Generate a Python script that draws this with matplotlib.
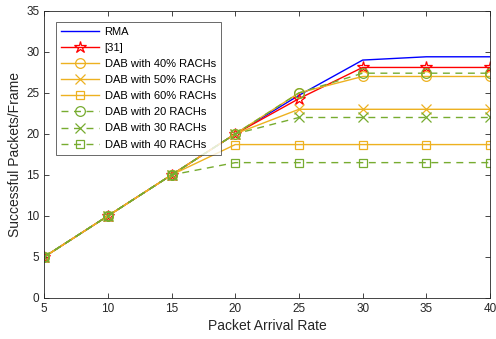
import matplotlib
matplotlib.use("Agg")
import matplotlib.pyplot as plt

plt.rcParams['font.family'] = ['Liberation Sans', 'DejaVu Sans']

x = [5, 10, 15, 20, 25, 30, 35, 40]
rma = [5, 10, 15, 20, 24.7, 29.0, 29.4, 29.4]
ref31 = [5, 10, 15, 20, 24.3, 28.1, 28.1, 28.1]
dab40p = [5, 10, 15, 20, 25.0, 27.0, 27.0, 27.0]
dab50p = [5, 10, 15, 20, 23.0, 23.0, 23.0, 23.0]
dab60p = [5, 10, 15, 18.7, 18.7, 18.7, 18.7, 18.7]
dab20 = [5, 10, 15, 20, 25.0, 27.4, 27.4, 27.4]
dab30 = [5, 10, 15, 20, 22.0, 22.0, 22.0, 22.0]
dab40 = [5, 10, 15, 16.5, 16.5, 16.5, 16.5, 16.5]

labels = ['RMA', '[31]', 'DAB with 40% RACHs', 'DAB with 50% RACHs', 'DAB with 60% RACHs',
          'DAB with 20 RACHs', 'DAB with 30 RACHs', 'DAB with 40 RACHs']

orange = '#EDB120'
green = '#77AC30'

fig = plt.figure(figsize=(4.96, 3.39), dpi=100)
ax = fig.add_axes([0.089, 0.121, 0.899, 0.847])

dash = (0, (5, 4))
ax.plot(x, rma, color='#0000FF', lw=1.0, label=labels[0])
ax.plot(x, ref31, color='#FF0000', lw=1.0, marker='*', ms=9, mfc='none', mew=0.9, label=labels[1])
ax.plot(x, dab40p, color=orange, lw=1.0, marker='o', ms=7, mfc='none', mew=0.9, label=labels[2])
ax.plot(x, dab50p, color=orange, lw=1.0, marker='x', ms=6.5, mew=0.9, label=labels[3])
ax.plot(x, dab60p, color=orange, lw=1.0, marker='s', ms=6, mfc='none', mew=0.9, label=labels[4])
ax.plot(x, dab20, color=green, lw=1.0, ls=dash, marker='o', ms=7, mfc='none', mew=0.9, label=labels[5])
ax.plot(x, dab30, color=green, lw=1.0, ls=dash, marker='x', ms=6.5, mew=0.9, label=labels[6])
ax.plot(x, dab40, color=green, lw=1.0, ls=dash, marker='s', ms=6, mfc='none', mew=0.9, label=labels[7])

ax.set_xlim(5, 40)
ax.set_ylim(0, 35)
ax.set_xticks(x)
ax.set_yticks(range(0, 36, 5))
ax.tick_params(direction='in', top=True, right=True, labelsize=8.5, colors='#262626', length=3.5, width=0.6)
for s in ax.spines.values():
    s.set_color('#262626')
    s.set_linewidth(0.6)
ax.set_xlabel('Packet Arrival Rate', fontsize=10, color='#262626', labelpad=3)
ax.set_ylabel('Successful Packets/Frame', fontsize=10, color='#262626', labelpad=3)

leg = ax.legend(loc='upper left', bbox_to_anchor=(0.027, 0.962), fontsize=8, frameon=True,
                fancybox=False, edgecolor='#262626', handlelength=3.4, labelspacing=0.55,
                borderpad=0.45, handletextpad=0.5, borderaxespad=0.0)
leg.get_frame().set_linewidth(0.6)

fig.savefig('out.png', dpi=100)
